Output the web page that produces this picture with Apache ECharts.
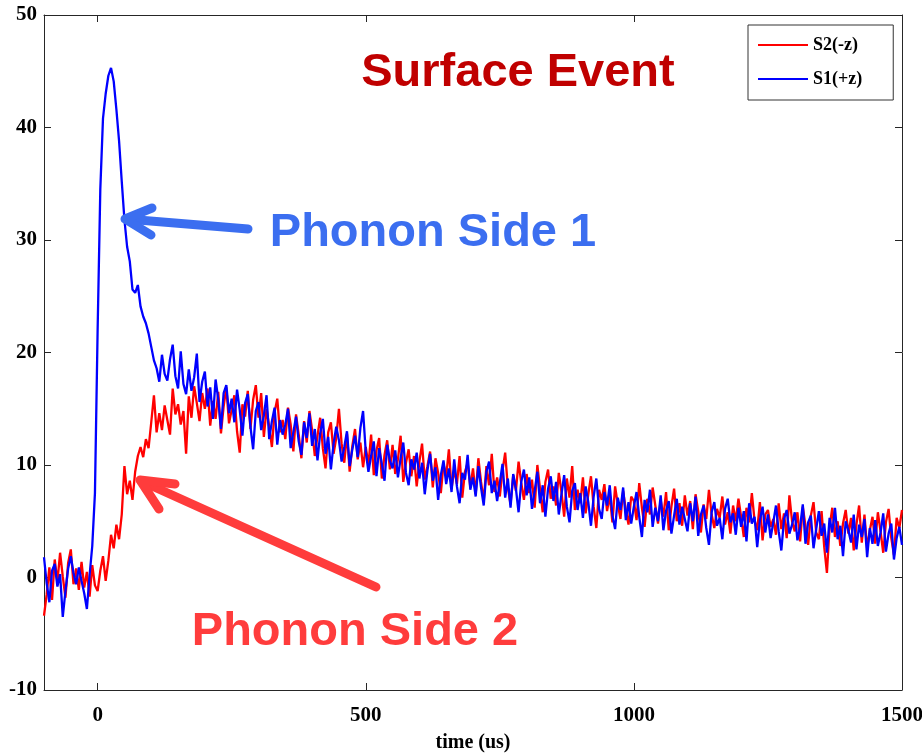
<!DOCTYPE html>
<html>
<head>
<meta charset="utf-8">
<title>Surface Event</title>
<script src="https://cdn.jsdelivr.net/npm/echarts@6/dist/echarts.min.js"></script>
<style>
  html, body { margin: 0; padding: 0; background: #fff; }
  #chart { width: 922px; height: 754px; }
</style>
</head>
<body>
<div id="chart"></div>
<script>
// Sampling grid of the two phonon channels (microseconds)
const T_START = -100;
const T_STEP = 5;

// Axis tick positions
const xTicks = [0, 500, 1000, 1500];
const yTicks = [-10, 0, 10, 20, 30, 40, 50];

// Series names, in legend order
const seriesNames = ['S2(-z)', 'S1(+z)'];

// Phonon side 1 (+z) pulse, one sample every T_STEP from T_START
const s1 = [
  1.8, -0.5, -2.2, 0.6, 1.2, -0.8, 0.3, -3.5, -1.2, 0.8,
  1.9, 0.4, -0.6, 0.9, -0.3, -1.4, -2.8, 0.2, 2.8, 7.5,
  22.0, 34.5, 40.8, 43.0, 44.6, 45.3, 44.1, 41.6, 38.8, 35.2,
  31.8, 29.4, 28.1, 25.6, 25.3, 26.0, 24.1, 23.2, 22.6, 21.7,
  20.5, 19.3, 18.6, 17.4, 19.8, 18.1, 17.5, 19.4, 20.7, 17.9,
  16.8, 20.1, 17.2, 16.3, 18.5, 16.6, 17.8, 19.9, 15.6, 17.4,
  18.3, 15.2, 16.9, 14.1, 17.6, 15.8, 13.2, 16.4, 17.1, 14.6,
  15.9, 13.8, 16.7, 14.9, 12.6, 15.5, 16.3, 13.4, 11.4, 14.8,
  15.6, 13.1, 14.4, 16.2, 12.3, 13.9, 15.1, 11.8, 14.0, 12.7,
  13.6, 15.0, 11.5, 12.9, 14.3, 12.1, 10.9, 13.8, 12.4, 14.6,
  11.7, 13.2, 10.4, 12.8, 14.1, 11.0, 12.5, 9.6, 11.9, 13.4,
  12.2, 10.3, 11.6, 13.0, 9.9, 11.4, 12.6, 10.7, 13.3, 14.8,
  11.2, 9.4, 10.8, 12.1, 9.0, 11.5, 10.1, 8.6, 11.8, 10.4,
  9.7, 11.3, 8.9, 10.6, 12.0, 9.3, 8.2, 10.5, 9.6, 11.1,
  8.8, 10.2, 7.4, 9.5, 11.0, 8.6, 9.8, 6.9, 9.1, 10.4,
  8.3, 9.7, 7.6, 10.5, 8.1, 6.6, 9.3, 8.7, 10.9, 7.8,
  8.9, 7.2, 9.9, 8.0, 6.4, 9.4, 10.3, 7.5, 8.6, 6.8,
  8.4, 10.1, 7.1, 8.8, 6.2, 9.2, 7.9, 5.8, 8.5, 9.6,
  7.3, 8.9, 6.1, 7.7, 9.4, 6.6, 8.2, 5.4, 7.9, 9.0,
  6.8, 8.5, 5.6, 7.4, 9.1, 6.3, 4.9, 7.7, 8.4, 6.0,
  7.5, 5.3, 8.1, 6.7, 4.6, 7.2, 8.8, 6.1, 5.2, 7.6,
  6.4, 8.2, 5.5, 4.3, 7.1, 6.0, 8.0, 5.1, 6.7, 4.8,
  6.3, 7.6, 5.4, 3.6, 6.9, 5.8, 7.8, 4.5, 6.2, 5.0,
  7.3, 4.2, 5.9, 6.8, 3.9, 5.5, 7.0, 4.7, 6.3, 5.2,
  4.1, 6.6, 5.0, 7.2, 3.7, 5.6, 6.4, 4.4, 2.9, 5.8,
  6.7, 4.6, 5.3, 3.4, 6.1, 7.0, 4.9, 5.7, 3.8, 6.2,
  4.5, 5.9, 3.2, 6.6, 4.8, 5.4, 2.7, 5.1, 6.3, 4.0,
  5.6, 3.5, 4.9, 6.4, 4.1, 2.4, 5.2, 6.0, 3.9, 4.7,
  5.8, 3.3, 4.5, 6.5, 3.0, 4.9, 5.5, 2.6, 4.3, 5.9,
  3.7, 4.8, 2.2, 5.3, 4.0, 6.2, 3.4, 4.6, 1.9, 5.0,
  4.2, 3.1, 5.6, 2.5, 4.7, 3.6, 5.2, 1.8, 4.4, 3.0,
  5.1, 2.8, 4.0, 5.7, 2.3, 3.9, 4.8, 1.6, 3.5, 4.5,
  2.9
];

// Phonon side 2 (-z) pulse, same sampling
const s2 = [
  -3.4, -1.5, 0.9, -2.0, 1.6, -0.4, 2.2, 0.1, -1.8, 1.3,
  2.5, -0.6, 0.8, -1.1, 1.4, -0.9, 0.5, -1.7, 1.1, -0.7,
  -1.2, 0.6, 1.9, -0.3, 1.5, 3.8, 2.6, 4.7, 3.4, 5.6,
  9.9, 7.4, 8.6, 6.9, 9.4, 10.8, 11.6, 10.7, 12.3, 11.5,
  13.8, 16.2, 12.9, 14.6, 13.1, 15.3, 14.0, 12.7, 16.8, 14.5,
  15.4, 13.6, 14.8, 11.0, 16.1, 14.2, 17.0, 15.5, 13.9, 16.4,
  15.0, 16.8, 13.5, 15.7, 14.1, 16.5, 12.8, 15.2, 16.9, 13.7,
  14.9, 16.2, 13.0, 11.1, 15.4, 14.3, 16.6, 13.2, 15.8, 17.1,
  14.2, 16.4, 12.5, 15.0, 13.4, 11.6, 14.7, 15.9, 12.9, 14.0,
  12.3, 15.1, 13.6, 11.2, 14.5, 12.7, 10.6, 13.9, 12.0, 14.8,
  13.1, 10.8, 12.6, 14.2, 11.5, 9.7, 12.9, 13.8, 11.0, 12.4,
  15.0, 11.9, 10.2, 12.8, 9.4, 11.7, 13.2, 10.5, 12.0, 9.8,
  11.6, 10.0, 12.7, 9.1, 11.3, 12.4, 8.8, 10.9, 12.2, 9.6,
  11.8, 9.2, 10.5, 12.6, 8.5, 10.2, 11.4, 9.0, 10.8, 8.1,
  10.3, 11.9, 8.7, 9.9, 11.2, 8.0, 10.6, 9.3, 7.5, 10.1,
  9.0, 11.4, 7.9, 9.6, 8.3, 10.8, 7.1, 9.4, 10.2, 8.0,
  9.7, 7.4, 10.6, 8.5, 6.8, 9.9, 8.2, 11.0, 7.6, 8.9,
  7.2, 9.5, 11.1, 8.0, 6.5, 9.1, 7.7, 10.3, 8.4, 6.9,
  9.2, 7.5, 8.7, 6.2, 10.0, 7.9, 5.8, 8.5, 9.6, 7.0,
  8.1, 6.4, 9.3, 7.6, 5.4, 8.8, 7.1, 9.9, 6.0, 7.8,
  6.6, 8.9, 5.7, 7.4, 9.0, 6.3, 4.4, 7.8, 6.9, 8.3,
  5.9, 7.3, 4.9, 8.1, 6.5, 5.2, 7.7, 6.0, 4.7, 7.2,
  6.8, 5.1, 8.4, 6.2, 4.5, 7.0, 5.6, 8.0, 6.4, 4.8,
  6.9, 5.4, 7.6, 4.2, 6.3, 7.9, 5.0, 6.6, 4.6, 7.3,
  5.5, 6.8, 4.3, 7.4, 5.9, 4.0, 6.5, 5.2, 7.8, 5.6,
  4.4, 6.1, 5.3, 7.2, 4.7, 5.8, 3.9, 6.4, 5.0, 7.0,
  5.4, 3.6, 6.2, 4.9, 7.5, 5.1, 4.2, 6.7, 3.3, 5.6,
  6.0, 4.5, 5.2, 3.8, 6.6, 4.3, 5.7, 3.5, 7.3, 5.0,
  4.1, 5.8, 3.2, 6.3, 4.6, 2.9, 5.5, 6.7, 4.0, 3.4,
  5.9, 2.7, 0.4, 4.5, 6.2, 3.6, 5.0, 2.8, 4.8, 6.0,
  3.9, 5.3, 2.4, 4.7, 6.4, 3.1, 5.6, 2.6, 4.2, 5.4,
  3.0, 5.8, 4.1, 2.2, 4.9, 6.1, 3.5, 2.0, 5.3, 4.4,
  6.0
];

function toPairs(values) {
  return values.map((v, i) => [T_START + i * T_STEP, v]);
}

const serif = '"Liberation Serif", "Times New Roman", serif';
const sans = '"Liberation Sans", Arial, sans-serif';
const axisColor = '#262626';

const chart = echarts.init(document.getElementById('chart'), null, { renderer: 'canvas' });

// Shared axis styling: boxed frame with inward ticks
function xAxisDef(position, showLabels) {
  return {
    type: 'value',
    position: position,
    min: -100,
    max: 1500,
    splitLine: { show: false },
    axisLine: { show: true, onZero: false, lineStyle: { color: axisColor, width: 1 } },
    axisTick: { show: true, inside: true, length: 7, customValues: xTicks, lineStyle: { color: axisColor } },
    axisLabel: showLabels ? {
      show: true, customValues: xTicks, margin: 15,
      formatter: (v) => String(v),
      fontFamily: serif, fontWeight: 'bold', fontSize: 21, color: '#000'
    } : { show: false },
    name: showLabels ? 'time (us)' : '',
    nameLocation: 'middle',
    nameGap: 43,
    nameTextStyle: { fontFamily: serif, fontWeight: 'bold', fontSize: 20, color: '#000' }
  };
}

function yAxisDef(position, showLabels) {
  return {
    type: 'value',
    position: position,
    min: -10,
    max: 50,
    interval: 10,
    splitLine: { show: false },
    axisLine: { show: true, onZero: false, lineStyle: { color: axisColor, width: 1 } },
    axisTick: { show: true, inside: true, length: 7, customValues: yTicks, lineStyle: { color: axisColor } },
    axisLabel: showLabels ? {
      show: true, margin: 7,
      fontFamily: serif, fontWeight: 'bold', fontSize: 21, color: '#000'
    } : { show: false }
  };
}

const option = {
  animation: false,
  backgroundColor: '#fff',
  grid: { left: 44, right: 20, top: 15, bottom: 64, containLabel: false, outerBoundsMode: 'none' },
  xAxis: [xAxisDef('bottom', true), xAxisDef('top', false)],
  yAxis: [yAxisDef('left', true), yAxisDef('right', false)],
  legend: {
    orient: 'vertical',
    left: 748,
    top: 25,
    data: seriesNames,
    icon: 'rect',
    itemWidth: 50,
    itemHeight: 2,
    itemGap: 14,
    padding: [10, 31, 11, 10],
    backgroundColor: '#fff',
    borderColor: '#333',
    borderWidth: 1,
    borderRadius: 0,
    textStyle: { fontFamily: serif, fontWeight: 'bold', fontSize: 18, color: '#000', lineHeight: 20 }
  },
  series: [
    {
      name: seriesNames[0],
      type: 'line',
      data: toPairs(s2),
      showSymbol: false,
      symbol: 'none',
      lineStyle: { color: '#ff0000', width: 2.3 },
      itemStyle: { color: '#ff0000' },
      z: 2
    },
    {
      name: seriesNames[1],
      type: 'line',
      data: toPairs(s1),
      showSymbol: false,
      symbol: 'none',
      lineStyle: { color: '#0000ff', width: 2.3 },
      itemStyle: { color: '#0000ff' },
      z: 3
    }
  ],
  graphic: [
    {
      type: 'text', x: 518, y: 73, z: 10,
      style: { text: 'Surface Event', fill: '#c00000', font: 'bold 47px ' + sans, align: 'center', verticalAlign: 'middle' }
    },
    {
      type: 'text', x: 433, y: 233, z: 10,
      style: { text: 'Phonon Side 1', fill: '#3b6ef0', font: 'bold 47px ' + sans, align: 'center', verticalAlign: 'middle' }
    },
    {
      type: 'text', x: 355, y: 632, z: 10,
      style: { text: 'Phonon Side 2', fill: '#ff3c3c', font: 'bold 47px ' + sans, align: 'center', verticalAlign: 'middle' }
    },
    // arrow pointing at the side-1 peak decay
    {
      type: 'polyline', z: 10,
      shape: { points: [[248, 229], [126, 219]] },
      style: { stroke: '#3b6ef0', lineWidth: 9, lineCap: 'round', fill: null }
    },
    {
      type: 'polyline', z: 10,
      shape: { points: [[152, 208], [125, 219], [151, 235]] },
      style: { stroke: '#3b6ef0', lineWidth: 9, lineCap: 'round', lineJoin: 'round', fill: null }
    },
    // arrow pointing at the side-2 rise
    {
      type: 'polyline', z: 10,
      shape: { points: [[376, 587], [141, 481]] },
      style: { stroke: '#ff3c3c', lineWidth: 9, lineCap: 'round', fill: null }
    },
    {
      type: 'polyline', z: 10,
      shape: { points: [[175, 484], [140, 480], [159, 509]] },
      style: { stroke: '#ff3c3c', lineWidth: 9, lineCap: 'round', lineJoin: 'round', fill: null }
    }
  ]
};

chart.setOption(option);
</script>
</body>
</html>
